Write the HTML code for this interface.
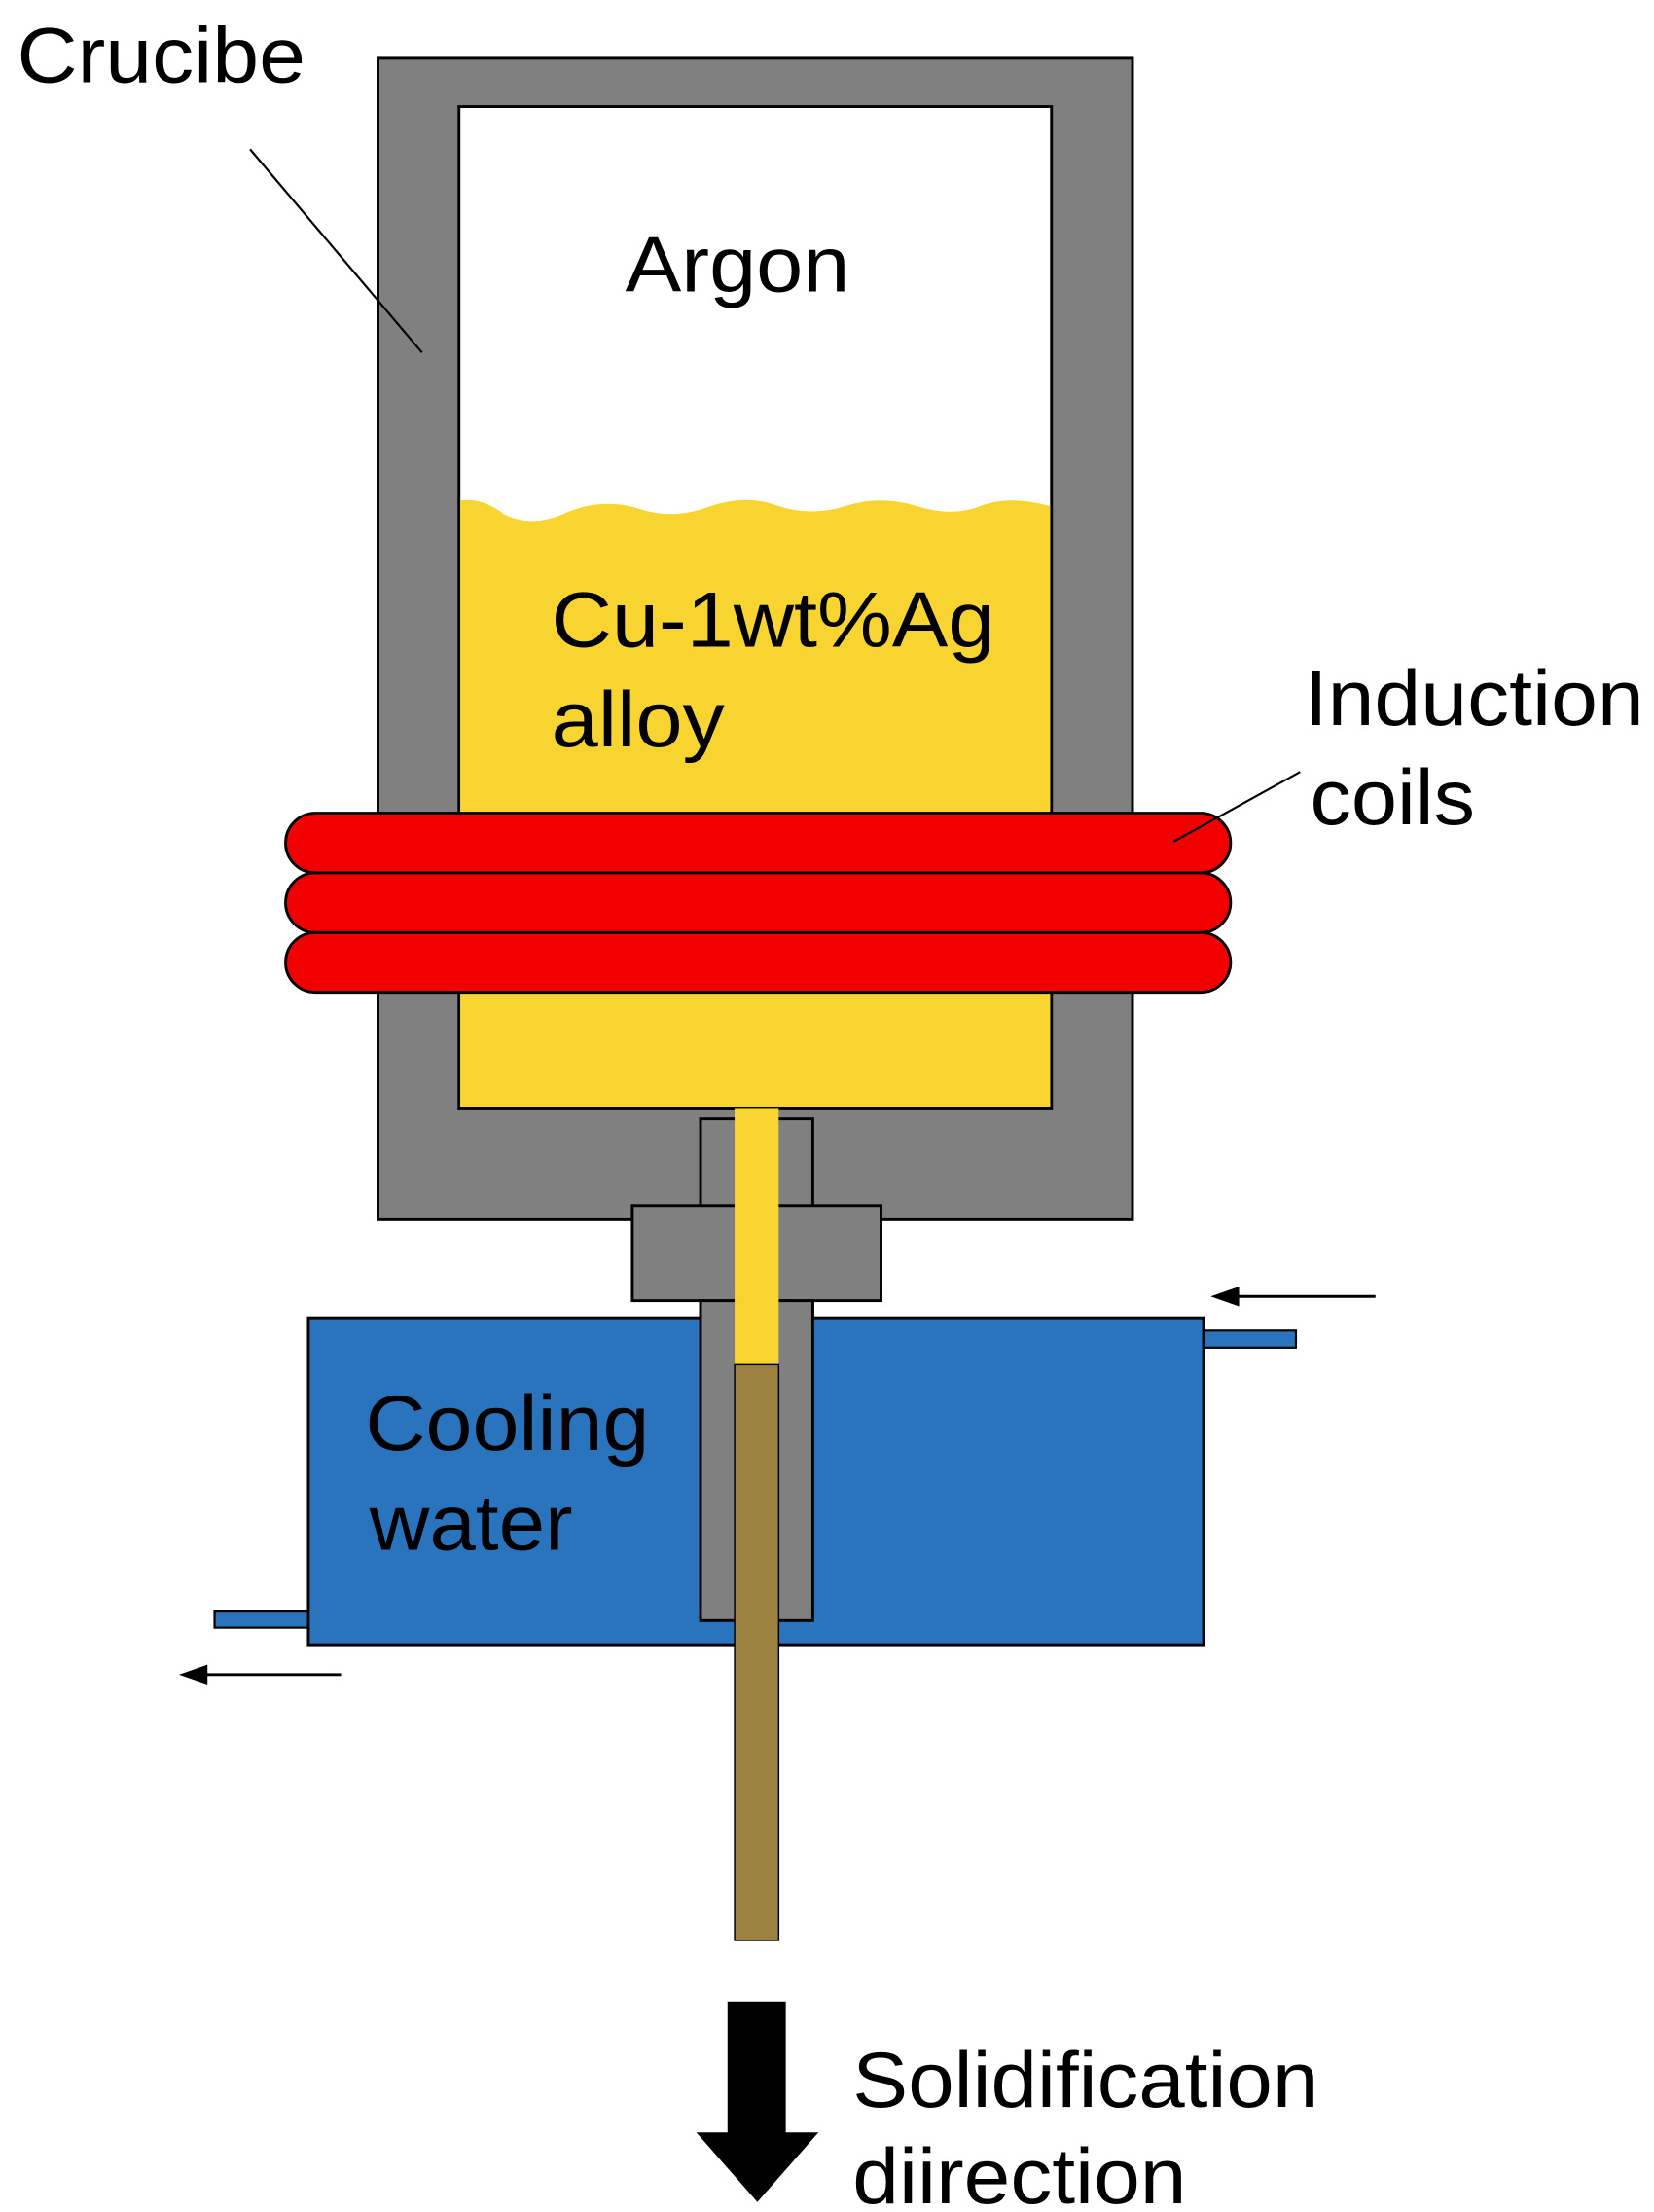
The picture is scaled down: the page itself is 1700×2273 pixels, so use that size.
<!DOCTYPE html>
<html><head><meta charset="utf-8"><style>
html,body{margin:0;padding:0;background:#fff;}
svg{display:block;}
text{font-family:"Liberation Sans",sans-serif;fill:#000;}
</style></head><body>
<svg width="1700" height="2273" viewBox="0 0 1164 1556" preserveAspectRatio="none" xmlns="http://www.w3.org/2000/svg">
<rect width="1164" height="1556" fill="#fff"/>
<rect x="266" y="41" width="531" height="817" fill="#808080" stroke="#000" stroke-width="2"/>
<rect x="323" y="75" width="417" height="705" fill="#fff" stroke="#000" stroke-width="2"/>
<path d="M324,352 Q340,350 355,362 Q375,372 400,360 Q425,350 450,358 Q475,366 500,356 Q525,348 545,355 Q570,364 595,356 Q620,348 645,356 Q670,364 690,356 Q710,348 739,356 L739,779 L324,779 Z" fill="#f8d431"/>
<rect x="493" y="787" width="79" height="353" fill="#808080" stroke="#000" stroke-width="2"/>
<rect x="445" y="848" width="175" height="67" fill="#808080" stroke="#000" stroke-width="2"/>
<rect x="847" y="936" width="65" height="12" fill="#2a73bd" stroke="#000" stroke-width="1.5"/>
<rect x="151" y="1133" width="66" height="12" fill="#2a73bd" stroke="#000" stroke-width="1.5"/>
<rect x="217" y="927" width="630" height="230" fill="#2a73bd" stroke="#000" stroke-width="2"/>
<rect x="493" y="915" width="79" height="225" fill="#808080" stroke="#000" stroke-width="2"/>
<rect x="517" y="780" width="31" height="180" fill="#f8d431"/>
<rect x="517" y="960" width="31" height="405" fill="#9b8240" stroke="#000" stroke-width="1"/>
<rect x="201" y="572" width="665" height="42" rx="21" fill="#f20000" stroke="#000" stroke-width="2"/>
<rect x="201" y="614" width="665" height="42" rx="21" fill="#f20000" stroke="#000" stroke-width="2"/>
<rect x="201" y="656" width="665" height="42" rx="21" fill="#f20000" stroke="#000" stroke-width="2"/>
<line x1="176" y1="105" x2="297" y2="248" stroke="#000" stroke-width="1.5"/>
<line x1="915" y1="543" x2="826" y2="592" stroke="#000" stroke-width="1.5"/>
<line x1="968" y1="912" x2="870" y2="912" stroke="#000" stroke-width="2"/>
<polygon points="852,912 872,905 872,919" fill="#000"/>
<line x1="240" y1="1178" x2="145" y2="1178" stroke="#000" stroke-width="2"/>
<polygon points="126,1178 146,1171 146,1185" fill="#000"/>
<polygon points="512,1408 553,1408 553,1500 576,1500 533,1549 490,1500 512,1500" fill="#000"/>
<text x="12" y="58" font-size="55" textLength="203" lengthAdjust="spacingAndGlyphs">Crucibe</text>
<text x="440" y="205" font-size="55" textLength="158" lengthAdjust="spacingAndGlyphs">Argon</text>
<text x="388" y="455" font-size="55" textLength="312" lengthAdjust="spacingAndGlyphs">Cu-1wt%Ag</text>
<text x="388" y="525" font-size="55" textLength="122" lengthAdjust="spacingAndGlyphs">alloy</text>
<text x="918" y="510" font-size="55" textLength="239" lengthAdjust="spacingAndGlyphs">Induction</text>
<text x="922" y="580" font-size="55" textLength="116" lengthAdjust="spacingAndGlyphs">coils</text>
<text x="257" y="1020" font-size="55" textLength="200" lengthAdjust="spacingAndGlyphs">Cooling</text>
<text x="260" y="1090" font-size="55" textLength="143" lengthAdjust="spacingAndGlyphs">water</text>
<text x="600" y="1482" font-size="55" textLength="328" lengthAdjust="spacingAndGlyphs">Solidification</text>
<text x="600" y="1550" font-size="55" textLength="235" lengthAdjust="spacingAndGlyphs">diirection</text>
</svg>
</body></html>
